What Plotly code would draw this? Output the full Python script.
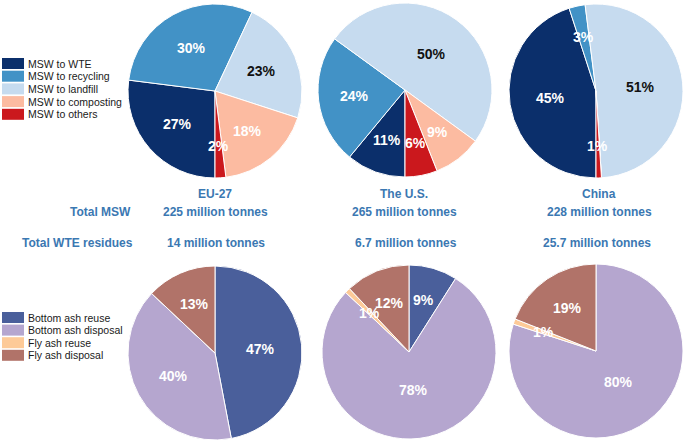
import math
import plotly.graph_objects as go

W, H = 685, 444

# ---------------- data ----------------
msw_labels = ["MSW to WTE", "MSW to recycling", "MSW to landfill",
              "MSW to composting", "MSW to others"]
msw_colors = ["#0b2f6b", "#4292c6", "#c6dbef", "#fcbba1", "#cb181d"]
msw_eu = [27, 30, 23, 18, 2]
msw_us = [11, 24, 50, 9, 6]
msw_cn = [45, 3, 51, 0, 1]

res_labels = ["Bottom ash reuse", "Bottom ash disposal", "Fly ash reuse", "Fly ash disposal"]
res_colors = ["#4a5f9b", "#b5a6cf", "#fdca98", "#b17369"]
res_eu = [47, 40, 0, 13]
res_us = [9, 78, 1, 12]
res_cn = [0, 80, 1, 19]

regions = ["EU-27", "The U.S.", "China"]
total_msw = ["225 million tonnes", "265 million tonnes", "228 million tonnes"]
total_res = ["14 million tonnes", "6.7 million tonnes", "25.7 million tonnes"]

# ---------------- layout constants (pixels) ----------------
R = 87
top_centers = [(215, 91), (405, 90), (596, 91)]
bot_centers = [(215, 353), (409, 352), (596, 351)]

BLUE_TXT = "#3b78b2"
NUM_FONT = "Liberation Sans, Arial, sans-serif"
LEG_FONT = "Liberation Sans, Arial, sans-serif"


def px(x):
    return x / W


def py(y):
    return 1 - y / H


fig = go.Figure()
annotations = []
shapes = []


def add_pie(values, labels, colors, center, start_deg, dark_label_idx=None):
    cx, cy = center
    fig.add_trace(go.Pie(
        values=values, labels=labels, sort=False, direction="clockwise",
        rotation=start_deg, textinfo="none", showlegend=False,
        marker=dict(colors=colors, line=dict(color="white", width=1)),
        domain=dict(x=[px(cx - R), px(cx + R)], y=[py(cy + R), py(cy - R)]),
    ))
    total = sum(values)
    cum = 0
    for i, v in enumerate(values):
        if v > 0:
            a = math.radians(start_deg + 360 * (cum + v / 2) / total)
            rf = 0.64 - 0.0025 * v
            x = cx + math.sin(a) * R * rf
            y = cy - math.cos(a) * R * rf
            col = "#111111" if i == dark_label_idx else "white"
            annotations.append(dict(
                x=px(x), y=py(y), xref="paper", yref="paper", showarrow=False,
                text=f"<b>{v}%</b>", xanchor="center", yanchor="middle",
                font=dict(family=NUM_FONT, size=14, color=col)))
        cum += v


for vals, c in zip([msw_eu, msw_us, msw_cn], top_centers):
    add_pie(vals, msw_labels, msw_colors, c, 180, dark_label_idx=2)
for vals, c in zip([res_eu, res_us, res_cn], bot_centers):
    add_pie(vals, res_labels, res_colors, c, 0)


# ---------------- legends (drawn) ----------------
def add_legend(labels, colors, y0, step):
    for i, (lab, col) in enumerate(zip(labels, colors)):
        yc = y0 + i * step
        shapes.append(dict(type="rect", xref="paper", yref="paper",
                           x0=px(2), x1=px(24), y0=py(yc + 5.5), y1=py(yc - 5.5),
                           fillcolor=col, line=dict(width=0)))
        annotations.append(dict(x=px(26), y=py(yc), xref="paper", yref="paper",
                                showarrow=False, text=lab, xanchor="left",
                                yanchor="middle",
                                font=dict(family=LEG_FONT, size=10.5, color="#1a1a1a")))


add_legend(msw_labels, msw_colors, 63.5, 12.7)
add_legend(res_labels, res_colors, 317.5, 12.6)

# ---------------- middle text ----------------
txt_font = dict(family=NUM_FONT, size=12, color=BLUE_TXT)
name_x = [215, 404, 599]
res_x = [216, 406, 597]
for i in range(3):
    annotations.append(dict(x=px(name_x[i]), y=py(194), xref="paper", yref="paper",
                            showarrow=False, text=f"<b>{regions[i]}</b>",
                            xanchor="center", yanchor="middle", font=txt_font))
    annotations.append(dict(x=px(name_x[i]), y=py(212), xref="paper", yref="paper",
                            showarrow=False, text=f"<b>{total_msw[i]}</b>",
                            xanchor="center", yanchor="middle", font=txt_font))
    annotations.append(dict(x=px(res_x[i]), y=py(243), xref="paper", yref="paper",
                            showarrow=False, text=f"<b>{total_res[i]}</b>",
                            xanchor="center", yanchor="middle", font=txt_font))
annotations.append(dict(x=px(133), y=py(212), xref="paper", yref="paper",
                        showarrow=False, text="<b>Total MSW</b>",
                        xanchor="right", yanchor="middle", font=txt_font))
annotations.append(dict(x=px(135), y=py(243), xref="paper", yref="paper",
                        showarrow=False, text="<b>Total WTE residues</b>",
                        xanchor="right", yanchor="middle", font=txt_font))

fig.update_layout(
    width=W, height=H,
    margin=dict(l=0, r=0, t=0, b=0),
    paper_bgcolor="white", plot_bgcolor="white",
    annotations=annotations, shapes=shapes,
    showlegend=False,
)

fig.write_html("out.html",
               config={"displayModeBar": False},
               post_script="document.body.style.margin='0';document.body.style.overflow='hidden';")
